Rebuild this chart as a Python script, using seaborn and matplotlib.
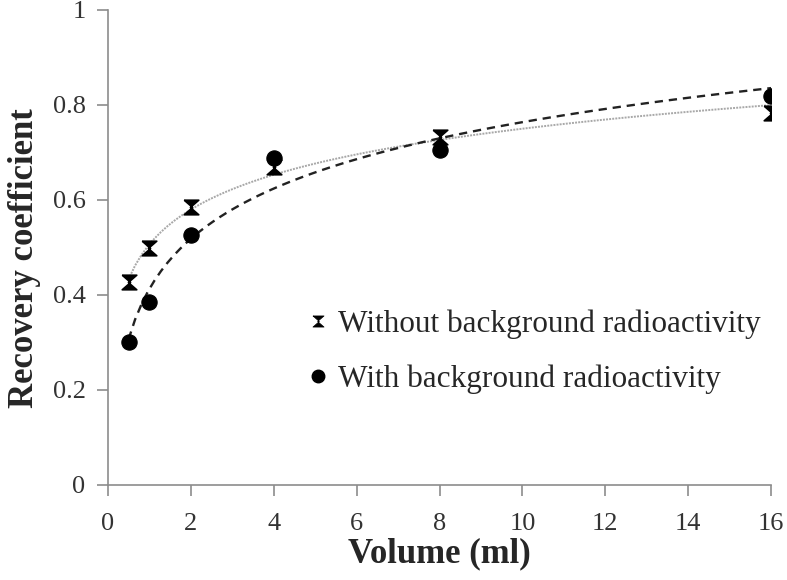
import numpy as np
import pandas as pd
import matplotlib
matplotlib.use("Agg")
import matplotlib.pyplot as plt
import seaborn as sns
from matplotlib.lines import Line2D

# volumes (ml) and recovery coefficients
volume = [0.5, 1, 2, 4, 8, 16]
rc_without_bg = [0.427, 0.499, 0.585, 0.67, 0.733, 0.783]
rc_with_bg = [0.301, 0.386, 0.527, 0.688, 0.705, 0.818]

data = pd.DataFrame({'volume': volume,
                     'without': rc_without_bg,
                     'with': rc_with_bg})

sns.set_style('white')
plt.rcParams['font.family'] = ['Liberation Serif', 'DejaVu Serif']

# hourglass marker used for the "without" series
hourglass = [(-1, 1), (1, 1), (-0.15, 0), (1, -1), (-1, -1), (0.15, 0), (-1, 1)]

fig = plt.figure(figsize=(7.87, 5.80), dpi=100)
ax = fig.add_axes([0.137, 0.164, 0.843, 0.819])

# logarithmic trendlines
sns.regplot(x='volume', y='without', data=data, logx=True, ci=None, scatter=False,
            truncate=True, ax=ax,
            line_kws={'color': '#a8a8a8', 'lw': 1.4, 'ls': (0, (1, 0.6))})
sns.regplot(x='volume', y='with', data=data, logx=True, ci=None, scatter=False,
            truncate=True, ax=ax,
            line_kws={'color': '#222222', 'lw': 1.7, 'ls': (0, (3.5, 2.5))})

# data points
sns.scatterplot(x='volume', y='without', data=data, ax=ax, marker=hourglass,
                s=110, color='black', edgecolor='black', linewidth=1.2, zorder=5)
sns.scatterplot(x='volume', y='with', data=data, ax=ax, marker='o',
                s=120, color='black', edgecolor='black', zorder=5)

ax.set_xlim(0, 16)
ax.set_ylim(0, 1)
ax.set_xticks(range(0, 17, 2))
ax.set_yticks([0, 0.2, 0.4, 0.6, 0.8, 1])
ax.set_yticklabels(['0', '0.2', '0.4', '0.6', '0.8', '1'])

for side in ['top', 'right']:
    ax.spines[side].set_visible(False)
for side in ['left', 'bottom']:
    ax.spines[side].set_color('#8c8c8c')
    ax.spines[side].set_linewidth(1.2)
ax.tick_params(axis='both', which='major', direction='out', length=8, width=1.2,
               bottom=True, left=True,
               color='#8c8c8c', labelsize=19, labelcolor='#333333', pad=8)
ax.tick_params(axis='x', pad=12)

ax.set_xlabel('Volume (ml)', fontsize=25, fontweight='bold', labelpad=2)
ax.set_ylabel('Recovery coefficient', fontsize=25, fontweight='bold')
ax.yaxis.set_label_coords(-0.10, 0.478)

handles = [Line2D([], [], marker=hourglass, color='black', ls='none',
                  markersize=8, markeredgewidth=0.5),
           Line2D([], [], marker='o', color='black', ls='none', markersize=9)]
ax.legend(handles, ['Without background radioactivity', 'With background radioactivity'],
          loc='center left', bbox_to_anchor=(0.262, 0.28), frameon=False,
          fontsize=22.5, handlelength=0.5, handletextpad=0.4, labelspacing=0.8)

fig.savefig('out.png', dpi=100)
